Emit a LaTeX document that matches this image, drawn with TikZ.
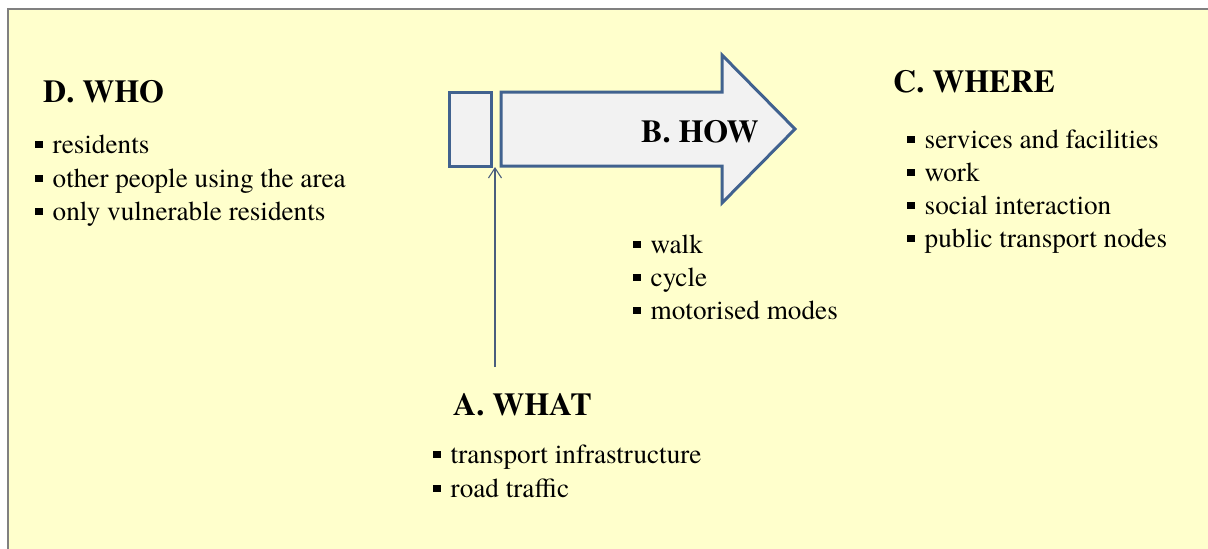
\documentclass[tikz,border=0pt]{standalone}
\usepackage{fontspec}
\setmainfont{texgyretermes}[Extension=.otf, UprightFont=*-regular, BoldFont=*-bold, ItalicFont=*-italic, BoldItalicFont=*-bolditalic]
\usetikzlibrary{arrows.meta}
\definecolor{bgyellow}{HTML}{FFFFCC}
\definecolor{framegrey}{HTML}{808080}
\definecolor{arrowblue}{HTML}{41628F}
\definecolor{arrowfill}{HTML}{F2F2F2}
\definecolor{thinblue}{HTML}{4A5E7E}
\newcommand\bsq{\raisebox{5pt}{\rule{7.5pt}{7.5pt}}\hspace{10pt}}
\tikzset{
  heading/.style={anchor=base west, inner sep=0pt, font=\fontsize{32}{36}\selectfont\bfseries},
  bulline/.style={anchor=base west, inner sep=0pt, font=\fontsize{27.2}{30}\selectfont},
  bigarrow/.style={draw=arrowblue, fill=arrowfill, line width=3pt, line join=miter},
  pointer/.style={draw=thinblue, line width=1.1pt, -{Straight Barb[length=10pt,width=13pt,line width=1.1pt]}}
}
\begin{document}
\begin{tikzpicture}[x=1pt,y=-1pt]
\useasboundingbox (0,0) rectangle (1208,549);
\fill[bgyellow] (8,9) rectangle (1208,549);
\draw[framegrey, line width=2pt] (8,549) -- (8,9) -- (1208,9);

% arrow block
\draw[bigarrow] (449,92) rectangle (491,166);
\draw[bigarrow] (501,92) -- (722,92) -- (722,55) -- (795,129) -- (722,203) -- (722,166) -- (501,166) -- cycle;
\node[heading] (how) at (641,142) {B. HOW};

% pointer from A
\coordinate (pstart) at (495,367);
\coordinate (pend) at (495,167);
\draw[pointer] (pstart) -- (pend);

% D. WHO
\node[heading] (who) at (43,102) {D. WHO};
\node[bulline] (d1) at (35,153) {\bsq residents};
\node[bulline] (d2) at (35,187) {\bsq other people using the area};
\node[bulline] (d3) at (35,220) {\bsq only vulnerable residents};

% C. WHERE
\node[heading] (where) at (893,92) {C. WHERE};
\node[bulline] (c1) at (907,148) {\bsq services and facilities};
\node[bulline] (c2) at (907,181) {\bsq work};
\node[bulline] (c3) at (907,214) {\bsq social interaction};
\node[bulline] (c4) at (907,247) {\bsq public transport nodes};

% B bullets
\node[bulline] (b1) at (633,253) {\bsq walk};
\node[bulline] (b2) at (633,286) {\bsq cycle};
\node[bulline] (b3) at (633,319) {\bsq motorised modes};

% A. WHAT
\node[heading] (what) at (453,415) {A. WHAT};
\node[bulline] (a1) at (433,463) {\bsq transport infrastructure};
\node[bulline] (a2) at (433,497) {\bsq road traffic};
\end{tikzpicture}
\end{document}
